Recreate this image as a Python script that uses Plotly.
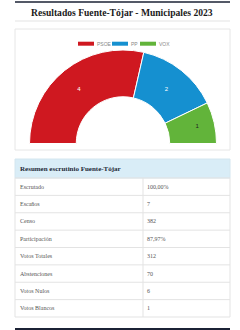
import plotly.graph_objects as go

parties = ["PSOE", "PP", "VOX"]
seats = [4, 2, 1]
colors = ["#cf1820", "#1590d0", "#62b43a"]
label_colors = ["#ffffff", "#ffffff", "#222222"]

row_labels = ["Escrutado", "Escaños", "Censo", "Participación", "Votos Totales",
              "Abstenciones", "Votos Nulos", "Votos Blancos"]
row_values = ["100,00%", "7", "382", "87,97%", "312", "70", "6", "1"]

title = "Resultados Fuente-Tójar - Municipales 2023"
table_title = "Resumen escrutinio Fuente-Tójar"

W, H = 240, 330
def px(x):
    return x / W
def py(y):
    return 1 - y / H

total = sum(seats)
fig = go.Figure()

fig.add_trace(go.Pie(
    values=seats + [total],
    labels=parties + ["_"],
    text=[str(s) for s in seats] + [""],
    textinfo="text",
    textposition="inside",
    insidetextorientation="horizontal",
    textfont=dict(size=6, color=label_colors + ["rgba(0,0,0,0)"], family="Liberation Sans"),
    marker=dict(colors=colors + ["rgba(0,0,0,0)"],
                line=dict(color=["#ffffff"] * 3 + ["rgba(0,0,0,0)"], width=[1, 1, 1, 0])),
    hole=0.5,
    sort=False,
    direction="clockwise",
    rotation=-90,
    domain=dict(x=[px(29), px(217)], y=[py(237), py(50)]),
    showlegend=False,
    hoverinfo="skip",
))

# table geometry
TX0, TX1, TSPLIT = 15, 230, 143
HEAD_TOP, HEAD_BOT = 159, 178
ROW_H = 17.375
LINE = "#e3e3e3"

shapes = [
    dict(type="line", xref="paper", yref="paper", x0=px(15), x1=px(230), y0=py(2), y1=py(2),
         line=dict(color="#1b2235", width=1.5)),
    dict(type="line", xref="paper", yref="paper", x0=px(15), x1=px(230), y0=py(21), y1=py(21),
         line=dict(color="#e3e3e3", width=1)),
    dict(type="rect", xref="paper", yref="paper", x0=px(15), x1=px(230), y0=py(150), y1=py(29),
         line=dict(color="#e6e6e6", width=1), layer="below"),
    dict(type="line", xref="paper", yref="paper", x0=px(15), x1=px(230), y0=py(329), y1=py(329),
         line=dict(color="#1b2235", width=2)),
    # table header
    dict(type="rect", xref="paper", yref="paper", x0=px(TX0), x1=px(TX1), y0=py(HEAD_BOT), y1=py(HEAD_TOP),
         fillcolor="#d9edf7", line=dict(color="#d4e6ef", width=1)),
]
annotations = [
    dict(text="<b>" + title + "</b>", x=px(122.5), y=py(12), xref="paper", yref="paper",
         showarrow=False, font=dict(family="Liberation Serif", size=9.6, color="#1a1a1a"),
         xanchor="center", yanchor="middle"),
    dict(text="<b>" + table_title + "</b>", x=px(18), y=py((HEAD_TOP + HEAD_BOT) / 2), xref="paper", yref="paper",
         showarrow=False, font=dict(family="Liberation Serif", size=7, color="#1e2a38"),
         xanchor="left", yanchor="middle"),
]

n = len(row_labels)
t_bot = HEAD_BOT + n * ROW_H
shapes.append(dict(type="rect", xref="paper", yref="paper", x0=px(TX0), x1=px(TX1), y0=py(t_bot), y1=py(HEAD_BOT),
                   line=dict(color=LINE, width=1)))
shapes.append(dict(type="line", xref="paper", yref="paper", x0=px(TSPLIT), x1=px(TSPLIT), y0=py(t_bot), y1=py(HEAD_BOT),
                   line=dict(color=LINE, width=1)))
for i, (lab, val) in enumerate(zip(row_labels, row_values)):
    top = HEAD_BOT + i * ROW_H
    if i > 0:
        shapes.append(dict(type="line", xref="paper", yref="paper", x0=px(TX0), x1=px(TX1), y0=py(top), y1=py(top),
                           line=dict(color=LINE, width=1)))
    yc = top + ROW_H / 2
    annotations.append(dict(text=lab, x=px(18), y=py(yc), xref="paper", yref="paper", showarrow=False,
                            xanchor="left", yanchor="middle",
                            font=dict(family="Liberation Serif", size=6, color="#555555")))
    annotations.append(dict(text=val, x=px(TSPLIT + 2), y=py(yc), xref="paper", yref="paper", showarrow=False,
                            xanchor="left", yanchor="middle",
                            font=dict(family="Liberation Serif", size=6, color="#555555")))

leg_x = [78, 112, 140]
for i, p in enumerate(parties):
    x0 = leg_x[i]
    shapes.append(dict(type="rect", xref="paper", yref="paper", x0=px(x0), x1=px(x0 + 16),
                       y0=py(45.7), y1=py(41.7), fillcolor=colors[i], line=dict(width=0)))
    annotations.append(dict(text=p, x=px(x0 + 17), y=py(43.7), xref="paper", yref="paper",
                            showarrow=False, xanchor="left", yanchor="middle",
                            font=dict(family="Liberation Sans", size=5, color="#888888")))

fig.update_layout(
    width=W, height=H, margin=dict(l=0, r=0, t=0, b=0),
    paper_bgcolor="#ffffff", plot_bgcolor="#ffffff",
    shapes=shapes, annotations=annotations,
)

fig.write_html("out.html")
